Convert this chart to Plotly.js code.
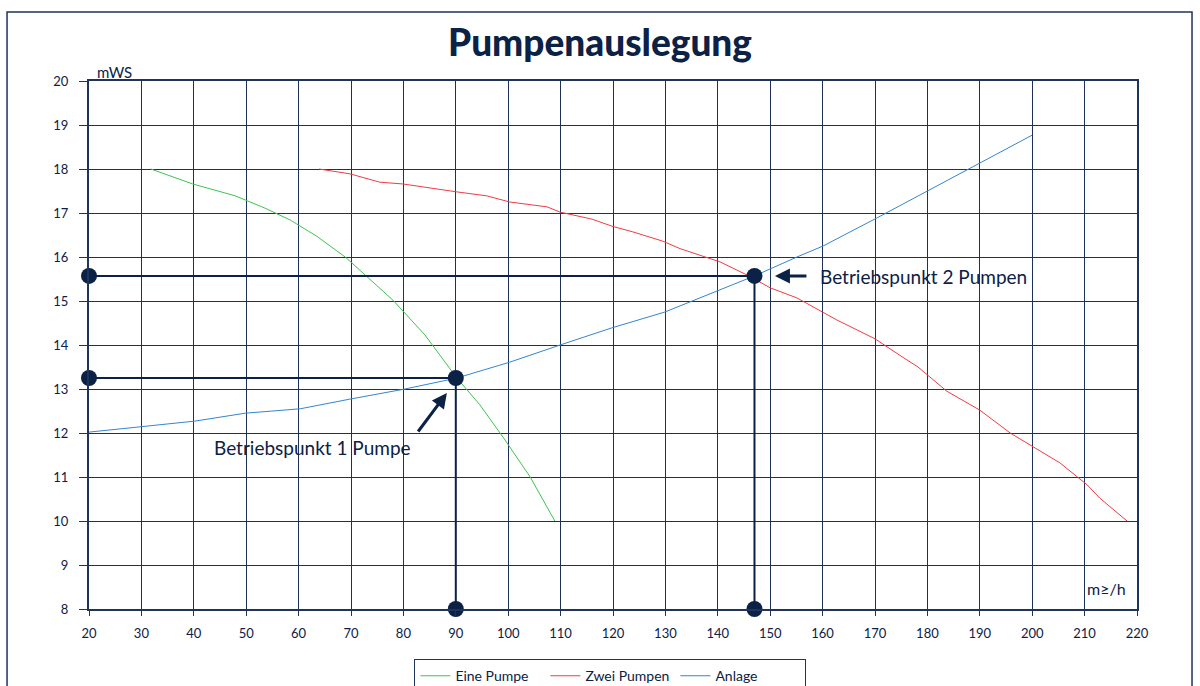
<!DOCTYPE html>
<html><head><meta charset="utf-8">
<script src="https://cdn.plot.ly/plotly-3.0.1.min.js"></script>
<style>html,body{margin:0;padding:0;background:#fff;}#chart{width:1200px;height:686px;}</style>
</head><body><div id="chart"></div>
<script>
// Eine Pumpe
const einX = [31.8, 39.8, 47.9, 53.6, 58.4, 63.5, 69.0, 73.1, 78.0, 84.1, 90.2, 94.6, 99.4, 104.2, 108.9];
const einY = [18.0, 17.66, 17.39, 17.11, 16.84, 16.47, 15.99, 15.55, 15.02, 14.23, 13.25, 12.64, 11.84, 11.0, 10.0];
// Zwei Pumpen
const zweiX = [63.9, 69.8, 75.5, 79.9, 90.2, 95.9, 100.3, 107.4, 109.9, 116.0, 119.8, 123.8, 129.5, 132.8, 140.4, 145.6, 150.0, 155.1, 162.7, 167.1, 170.0, 175.2, 178.2, 183.7, 190.0, 195.8, 200.2, 205.3, 210.5, 212.9, 218.1];
const zweiY = [18.0, 17.89, 17.7, 17.66, 17.48, 17.39, 17.25, 17.14, 17.02, 16.86, 16.70, 16.57, 16.36, 16.19, 15.89, 15.59, 15.3, 15.07, 14.57, 14.3, 14.14, 13.73, 13.5, 12.95, 12.52, 12.0, 11.68, 11.32, 10.82, 10.52, 10.0];
// Anlage
const anlX = [20, 29.7, 40.2, 49.8, 60.3, 69.8, 80.3, 90.2, 100.3, 109.9, 119.8, 129.9, 136.6, 147.0, 155.1, 160.1, 170.4, 180.1, 190.0, 200.0];
const anlY = [12.02, 12.14, 12.27, 12.45, 12.55, 12.77, 13.0, 13.25, 13.61, 14.0, 14.39, 14.75, 15.07, 15.57, 16.0, 16.25, 16.89, 17.5, 18.14, 18.77];
// Betriebspunkte
const opX = [90, 147];
const opY = [13.25, 15.57];
const opLabels = ["Betriebspunkt 1 Pumpe", "Betriebspunkt 2 Pumpen"];
const xMin = 20, xMax = 220, yMin = 8, yMax = 20;
const xTicks = [20,30,40,50,60,70,80,90,100,110,120,130,140,150,160,170,180,190,200,210,220];
const yTicks = [8,9,10,11,12,13,14,15,16,17,18,19,20];

const NAVY = '#0c2146';
const GRID = '#1c3153';
const FONT = 'Lato, "Open Sans", sans-serif';

const traces = [
  {x: einX, y: einY, mode: 'lines', name: 'Eine Pumpe', line: {color: '#3fc44f', width: 1}},
  {x: zweiX, y: zweiY, mode: 'lines', name: 'Zwei Pumpen', line: {color: '#f03c44', width: 1}},
  {x: anlX, y: anlY, mode: 'lines', name: 'Anlage', line: {color: '#3585cf', width: 1}}
];
// operating point drop lines and dots
opX.forEach((px, i) => {
  traces.push({x: [xMin, px, px], y: [opY[i], opY[i], yMin], mode: 'lines+markers', showlegend: false,
    hoverinfo: 'skip', cliponaxis: false,
    line: {color: NAVY, width: 2}, marker: {color: NAVY, size: 16}});
});

const annotations = [
  {xref: 'paper', yref: 'paper', x: 0.006, y: 1.017, xanchor: 'left', yanchor: 'middle', text: 'mWS', showarrow: false, font: {family: FONT, size: 15, color: NAVY}},
  {xref: 'paper', yref: 'paper', x: 0.9914, y: 0.038, xanchor: 'right', yanchor: 'middle', text: 'm≥/h', showarrow: false, font: {family: FONT, size: 16, color: NAVY}},
  // arrow 1
  {x: 88.3, y: 12.91, ax: 82.6, ay: 12.0, axref: 'x', ayref: 'y', text: '', showarrow: true, arrowhead: 2, arrowsize: 1, arrowwidth: 3, arrowcolor: NAVY},
  {x: 62.7, y: 11.68, text: opLabels[0], showarrow: false, xanchor: 'center', yanchor: 'middle', font: {family: FONT, size: 19, color: NAVY}},
  // arrow 2
  {x: 150.9, y: 15.57, ax: 157.2, ay: 15.57, axref: 'x', ayref: 'y', text: '', showarrow: true, arrowhead: 2, arrowsize: 1, arrowwidth: 3, arrowcolor: NAVY},
  {x: 159.1, y: 15.55, text: opLabels[1], showarrow: false, xanchor: 'left', yanchor: 'middle', font: {family: FONT, size: 19, color: NAVY}}
];

const layout = {
  width: 1200, height: 686,
  margin: {l: 89, r: 63, t: 81, b: 77, autoexpand: false},
  paper_bgcolor: '#fff', plot_bgcolor: '#fff',
  font: {family: FONT, color: NAVY, size: 13},
  title: {text: 'Pumpenauslegung', x: 0.5, xanchor: 'center', y: 0.937, yanchor: 'middle', xref: 'container',
    font: {family: FONT, size: 37, weight: 900, color: NAVY}},
  xaxis: {range: [xMin, xMax], tickvals: xTicks, ticktext: xTicks.map(String), showgrid: true, gridcolor: GRID, gridwidth: 1,
    showline: true, mirror: true, linecolor: '#1e3458', linewidth: 2, ticks: 'outside', ticklen: 5, tickcolor: '#1e3458',
    ticklabelstandoff: 6, tickfont: {family: FONT, size: 13, color: NAVY}, zeroline: false, fixedrange: true, automargin: false},
  yaxis: {range: [yMin, yMax], tickvals: yTicks, ticktext: yTicks.map(String), showgrid: true, gridcolor: GRID, gridwidth: 1,
    showline: true, mirror: true, linecolor: '#1e3458', linewidth: 2, ticks: 'outside', ticklen: 8, tickcolor: '#1e3458',
    ticklabelstandoff: 8, tickfont: {family: FONT, size: 13, color: NAVY}, zeroline: false, fixedrange: true, automargin: false},
  showlegend: true,
  legend: {orientation: 'h', x: 0.4975, xanchor: 'center', y: -0.095, yanchor: 'top', bordercolor: '#1e3458', borderwidth: 1,
    bgcolor: '#fff', font: {family: FONT, size: 14, color: NAVY}, itemwidth: 30, entrywidth: 85, entrywidthmode: 'pixels'},
  shapes: [
    {type: 'rect', xref: 'paper', yref: 'paper', x0: -0.0782, x1: 1.0525, y0: -0.2, y1: 1.1307, line: {color: '#1e3458', width: 1.5}, layer: 'below'}
  ],
  annotations: annotations
};

Plotly.newPlot('chart', traces, layout, {displayModeBar: false, staticPlot: true});
</script>
</body></html>
